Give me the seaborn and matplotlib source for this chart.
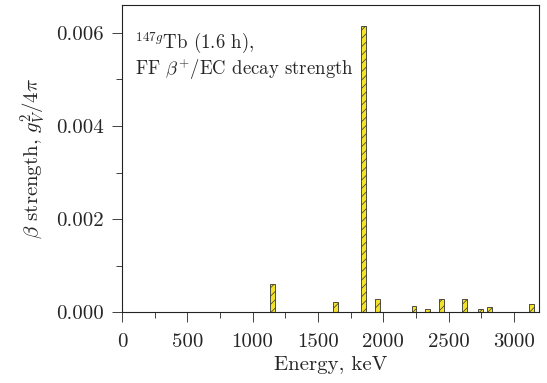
import matplotlib
matplotlib.use("Agg")
import matplotlib.pyplot as plt
from matplotlib.ticker import MultipleLocator
import numpy as np
import pandas as pd
import seaborn as sns

# Final-state energies (keV) and first-forbidden beta+/EC strengths
energy_kev = [1152, 1631, 1850, 1952, 2235, 2337, 2444, 2620, 2742, 2813, 3134]
strength = [0.000596, 0.000208, 0.00615, 0.000287, 0.000129, 0.00006,
            0.000287, 0.000287, 0.00006, 0.0001, 0.000165]

x_ticks = [0, 500, 1000, 1500, 2000, 2500, 3000]
y_ticks = [0.000, 0.002, 0.004, 0.006]
y_tick_labels = ["0.000", "0.002", "0.004", "0.006"]

sns.set_style("ticks")
plt.rcParams["font.family"] = "serif"
plt.rcParams["font.serif"] = ["cmr10", "DejaVu Serif"]
plt.rcParams["mathtext.fontset"] = "cm"
plt.rcParams["axes.formatter.use_mathtext"] = True
plt.rcParams["hatch.linewidth"] = 0.5
plt.rcParams["hatch.color"] = "#333333"

df = pd.DataFrame({"energy": energy_kev, "strength": strength})

fig = plt.figure(figsize=(5.47, 3.83), dpi=100)
ax = fig.add_axes([0.223, 0.185, 0.762, 0.802])

bar_kev = 38.0
min_gap = np.min(np.diff(sorted(energy_kev)))
sns.barplot(data=df, x="energy", y="strength", native_scale=True,
            width=bar_kev / min_gap, color="#f2e22a", saturation=1,
            edgecolor="#333333", linewidth=0.6, hatch="////", ax=ax,
            errorbar=None)

ax.set_xlim(0, 3190)
ax.set_ylim(0, 0.0066)
ax.set_xticks(x_ticks)
ax.set_xticklabels([str(t) for t in x_ticks])
ax.set_yticks(y_ticks)
ax.set_yticklabels(y_tick_labels)
ax.xaxis.set_minor_locator(MultipleLocator(250))
ax.yaxis.set_minor_locator(MultipleLocator(0.001))
ax.tick_params(which="major", length=7, width=0.6, labelsize=15, color="#222222")
ax.tick_params(which="minor", length=4, width=0.6, color="#222222")
ax.tick_params(axis="x", which="major", pad=8)
ax.tick_params(axis="y", which="major", pad=6)
for s in ax.spines.values():
    s.set_linewidth(0.8)
    s.set_color("#222222")
    s.set_visible(True)

ax.set_xlabel("Energy, keV", fontsize=15, labelpad=4)
ax.set_ylabel(r"$\beta$ strength, $g_V^2/4\pi$", fontsize=15, labelpad=6)

ax.text(0.032, 0.876, r"$^{147g}$Tb (1.6 h),", transform=ax.transAxes,
        fontsize=13.5, va="center", ha="left")
ax.text(0.032, 0.79, r"FF $\beta^{+}$/EC decay strength", transform=ax.transAxes,
        fontsize=13.5, va="center", ha="left")

fig.savefig("out.png", dpi=100)
